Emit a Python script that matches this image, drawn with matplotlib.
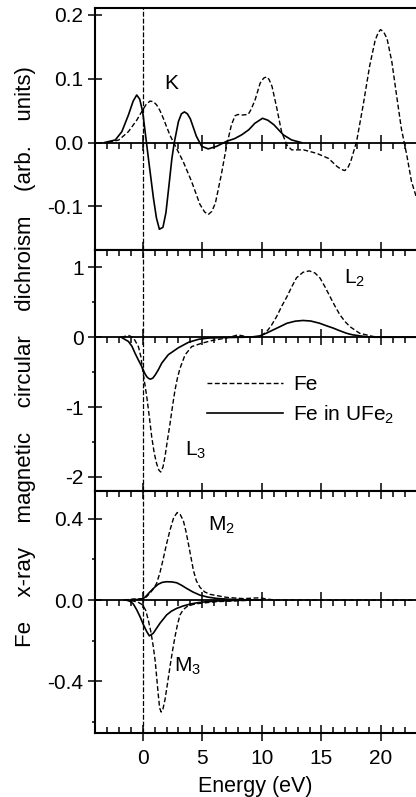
import matplotlib
matplotlib.use('Agg')
import matplotlib.pyplot as plt
from matplotlib.ticker import MultipleLocator
from matplotlib.lines import Line2D

plt.rcParams['font.family'] = ['Liberation Sans', 'DejaVu Sans']
plt.rcParams['mathtext.default'] = 'regular'
plt.rcParams['axes.unicode_minus'] = False

# K edge
k_fe_x = [-2.9, -2.0, -1.2, -0.5, 0.0, 0.3, 0.62, 0.9, 1.17, 1.45, 1.73, 2.0, 2.3, 2.7, 3.4, 4.1,
          4.8, 5.2, 5.5, 5.8, 6.1, 6.6, 7.05, 7.45, 7.75, 8.0, 8.3, 8.85, 9.1, 9.45, 9.85, 10.15,
          10.4, 10.6, 10.85, 11.25, 11.65, 12.1, 12.5, 13.5, 14.6, 15.6, 16.3, 16.65, 16.95, 17.2,
          17.45, 17.95, 18.5, 19.05, 19.5, 19.75, 19.95, 20.2, 20.5, 20.9, 21.3, 21.7, 22.15, 22.55, 22.93]
k_fe_y = [0.0, 0.004, 0.017, 0.035, 0.051, 0.06, 0.065, 0.064, 0.059, 0.05, 0.038, 0.025, 0.011,
          -0.004, -0.030, -0.061, -0.097, -0.109, -0.113, -0.108, -0.095, -0.05, -0.004, 0.028,
          0.042, 0.044, 0.043, 0.044, 0.052, 0.068, 0.093, 0.101, 0.103, 0.099, 0.088, 0.054,
          0.017, -0.004, -0.0115, -0.0115, -0.017, -0.025, -0.0375, -0.042, -0.044, -0.040,
          -0.030, 0.002, 0.059, 0.121, 0.16, 0.172, 0.177, 0.174, 0.163, 0.127, 0.074, 0.022,
          -0.019, -0.061, -0.084]
k_ufe2_x = [-3.2, -2.3, -1.75, -1.2, -0.8, -0.5, -0.25, 0.0, 0.25, 0.5, 0.9, 1.15, 1.4, 1.7, 1.95,
            2.2, 2.45, 2.65, 3.0, 3.25, 3.5, 3.75, 4.0, 4.5, 4.95, 5.5, 6.2, 7.05, 7.7, 8.3, 8.9,
            9.4, 10.05, 10.5, 11.0, 11.8, 12.5, 13.3]
k_ufe2_y = [0.0, 0.004, 0.017, 0.043, 0.065, 0.0745, 0.068, 0.048, 0.01, -0.028, -0.087, -0.118,
            -0.136, -0.133, -0.110, -0.068, -0.025, 0.0, 0.033, 0.045, 0.048, 0.045, 0.037, 0.01,
            -0.006, -0.010, -0.006, 0.002, 0.006, 0.012, 0.02, 0.030, 0.038, 0.035, 0.028, 0.012,
            0.004, 0.0]

# L2,3 edges
l_fe_x = [-1.8, -1.2, -0.8, -0.36, -0.15, 0.0, 0.17, 0.34, 0.55, 0.76, 0.97, 1.17, 1.35, 1.51,
          1.7, 1.87, 2.08, 2.29, 2.5, 2.71, 2.92, 3.13, 3.55, 4.11, 4.95, 5.8, 6.9, 7.5, 8.0, 8.5,
          9.0, 9.85, 10.4, 10.8, 11.25, 11.65, 12.1, 12.5, 12.9, 13.45, 13.98, 14.45, 14.87, 15.3,
          15.72, 16.15, 16.55, 17.0, 17.4, 18.2, 19.35, 20.5, 22.93]
l_fe_y = [0.0, 0.025, 0.0, -0.134, -0.28, -0.47, -0.66, -0.85, -1.13, -1.43, -1.66, -1.81, -1.9,
          -1.93, -1.86, -1.71, -1.47, -1.24, -0.99, -0.757, -0.58, -0.445, -0.254, -0.134, -0.086,
          -0.048, -0.014, 0.01, 0.034, 0.015, 0.0, 0.01, 0.08, 0.17, 0.30, 0.44, 0.58, 0.72, 0.85,
          0.93, 0.95, 0.92, 0.85, 0.72, 0.58, 0.44, 0.32, 0.22, 0.15, 0.057, 0.01, 0.0, 0.0]
l_ufe2_x = [-1.8, -1.2, -0.9, -0.64, -0.35, -0.08, 0.15, 0.34, 0.5, 0.65, 0.85, 1.05, 1.3, 1.6,
            2.15, 3.0, 3.85, 4.7, 5.5, 6.5, 7.5, 8.5, 9.2, 9.85, 10.4, 10.95, 11.5, 12.1, 12.8,
            13.45, 14.1, 14.85, 15.4, 16.0, 16.5, 17.1, 17.6, 18.2, 18.8, 19.4, 20.5, 22.93]
l_ufe2_y = [0.0, -0.06, -0.13, -0.23, -0.33, -0.42, -0.51, -0.565, -0.59, -0.6, -0.585, -0.54,
            -0.47, -0.37, -0.25, -0.15, -0.072, -0.029, -0.012, -0.006, -0.003, 0.0, 0.005, 0.02,
            0.06, 0.105, 0.15, 0.2, 0.23, 0.24, 0.232, 0.2, 0.165, 0.13, 0.095, 0.057, 0.035,
            0.02, 0.008, 0.0, 0.0, 0.0]

# M2,3 edges
m2_fe_x = [-1.6, -0.8, 0.0, 0.3, 0.6, 0.9, 1.17, 1.45, 1.73, 2.0, 2.29, 2.6, 2.9, 3.15, 3.41, 3.62,
           3.83, 4.05, 4.25, 4.5, 4.81, 5.2, 5.65, 7.05, 8.45, 9.4, 9.85, 10.5, 11.2, 15.0, 20.0, 22.93]
m2_fe_y = [0.0, 0.005, 0.007, 0.015, 0.033, 0.055, 0.082, 0.135, 0.204, 0.275, 0.343, 0.405, 0.43,
           0.42, 0.39, 0.34, 0.278, 0.21, 0.147, 0.095, 0.062, 0.04, 0.028, 0.013, 0.007, 0.01,
           0.011, 0.004, 0.0, 0.0, 0.0, 0.0]
m2_ufe2_x = [-1.0, 0.0, 0.3, 0.61, 0.95, 1.31, 1.65, 2.01, 2.45, 2.85, 3.25, 3.69, 4.2, 4.81, 5.5,
             6.2, 7.2, 8.2, 10.0]
m2_ufe2_y = [0.0, 0.005, 0.02, 0.04, 0.06, 0.078, 0.087, 0.09, 0.089, 0.085, 0.073, 0.057, 0.04,
             0.024, 0.014, 0.008, 0.004, 0.002, 0.0]
m3_fe_x = [-1.6, -0.8, -0.4, 0.0, 0.25, 0.47, 0.7, 0.89, 1.05, 1.17, 1.3, 1.42, 1.55, 1.7, 1.87,
           2.08, 2.29, 2.5, 2.71, 2.92, 3.13, 3.4, 3.69, 4.2, 4.81, 6.2, 8.16, 10.0]
m3_fe_y = [0.0, -0.005, -0.01, -0.024, -0.05, -0.098, -0.16, -0.229, -0.3, -0.376, -0.46, -0.53,
           -0.55, -0.535, -0.49, -0.41, -0.327, -0.25, -0.18, -0.12, -0.073, -0.048, -0.033,
           -0.022, -0.016, -0.008, -0.003, 0.0]
m3_ufe2_x = [-1.34, -1.0, -0.78, -0.5, -0.22, 0.05, 0.34, 0.56, 0.89, 1.15, 1.45, 2.01, 2.4, 2.85,
             3.4, 3.97, 4.6, 5.37, 6.5, 7.6, 9.0]
m3_ufe2_y = [0.0, -0.008, -0.02, -0.048, -0.082, -0.12, -0.155, -0.176, -0.163, -0.14, -0.114,
             -0.073, -0.055, -0.041, -0.029, -0.02, -0.013, -0.008, -0.004, -0.002, 0.0]

dash = (0, (3.5, 1.8))
fs = 15

fig, (ax1, ax2, ax3) = plt.subplots(3, 1, sharex=True, figsize=(4.16, 7.97), dpi=100,
                                    gridspec_kw=dict(hspace=0, left=0.2284, right=1.0,
                                                     top=0.99, bottom=0.0803))

ax1.plot(k_fe_x, k_fe_y, color='k', lw=1.0, ls=dash)
ax1.plot(k_ufe2_x, k_ufe2_y, color='k', lw=1.2)
ax2.plot(l_fe_x, l_fe_y, color='k', lw=1.0, ls=dash)
ax2.plot(l_ufe2_x, l_ufe2_y, color='k', lw=1.2)
ax3.plot(m2_fe_x, m2_fe_y, color='k', lw=1.0, ls=dash)
ax3.plot(m3_fe_x, m3_fe_y, color='k', lw=1.0, ls=dash)
ax3.plot(m2_ufe2_x, m2_ufe2_y, color='k', lw=1.2)
ax3.plot(m3_ufe2_x, m3_ufe2_y, color='k', lw=1.2)

ax1.set_ylim(-0.168, 0.211)
ax2.set_ylim(-2.206, 1.254)
ax3.set_ylim(-0.653, 0.534)
ax3.set_xlim(-4, 22.93)

ax1.yaxis.set_major_locator(MultipleLocator(0.1))
ax2.yaxis.set_major_locator(MultipleLocator(1))
ax2.yaxis.set_minor_locator(MultipleLocator(0.5))
ax3.yaxis.set_major_locator(MultipleLocator(0.4))
ax3.yaxis.set_minor_locator(MultipleLocator(0.2))

for ax in (ax1, ax2, ax3):
    ax.axvline(0, color='k', lw=0.9, ls=(0, (4, 1.5)))
    ax.spines['right'].set_visible(False)
    for s in ('left', 'top', 'bottom'):
        ax.spines[s].set_linewidth(1.5)
    ax.xaxis.set_major_locator(MultipleLocator(5))
    ax.xaxis.set_minor_locator(MultipleLocator(1))
    ax.tick_params(axis='y', which='major', direction='inout', length=9.5, width=1.1,
                   labelsize=15, pad=3.5, right=False)
    ax.tick_params(axis='y', which='minor', direction='out', length=2.5, width=1.1, right=False)
    ax.tick_params(axis='x', which='major', direction='inout', length=11, width=1.1)
    ax.tick_params(axis='x', which='minor', direction='in', length=4, width=1.1)
    # zero line carries its own ticks
    sec = ax.secondary_xaxis(0, transform=ax.transData)
    sec.xaxis.set_major_locator(MultipleLocator(5))
    sec.xaxis.set_minor_locator(MultipleLocator(1))
    sec.tick_params(which='major', direction='inout', length=11, width=1.1, labelbottom=False)
    sec.tick_params(which='minor', direction='out', length=4, width=1.1)
    sec.spines['bottom'].set_linewidth(1.3)

ax1.tick_params(axis='x', which='both', top=False, bottom=False, labelbottom=False)
ax2.tick_params(axis='x', which='both', top=True, bottom=False, labelbottom=False)
ax3.tick_params(axis='x', which='both', top=True, bottom=True, labelsize=15, pad=6)

ax1.text(2.43, 0.093, 'K', fontsize=fs, ha='center', va='center')
ax2.text(17.8, 0.85, 'L$_2$', fontsize=fs, ha='center', va='center')
ax2.text(4.4, -1.62, 'L$_3$', fontsize=fs, ha='center', va='center')
ax3.text(6.6, 0.368, 'M$_2$', fontsize=fs, ha='center', va='center')
ax3.text(3.8, -0.327, 'M$_3$', fontsize=fs, ha='center', va='center')

handles = [Line2D([], [], color='k', lw=1.0, ls=dash),
           Line2D([], [], color='k', lw=1.2)]
ax2.legend(handles, ['Fe', 'Fe in UFe$_2$'], loc='upper left', bbox_to_anchor=(0.349, 0.48),
           frameon=False, fontsize=fs, handlelength=3.65, handletextpad=0.5,
           labelspacing=0.45, borderpad=0, borderaxespad=0)

ax3.set_xlabel('Energy (eV)', fontsize=15.5, labelpad=6)
fig.text(26 / 416, 1 - 357 / 797,
         'Fe    x-ray    magnetic    circular    dichroism    (arb.    units)',
         rotation=90, ha='center', va='center', fontsize=16)

fig.savefig('out.png', dpi=100)
